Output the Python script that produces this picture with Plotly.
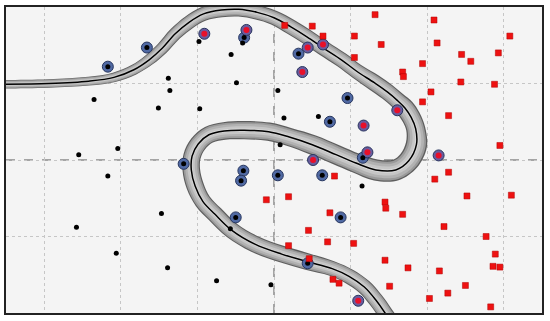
import numpy as np
import plotly.graph_objects as go

# class A (black dots)
a_x = [-1.38, -1.36, -2.35, -1.51, -2.04, -2.55, -0.98, -0.56, -0.41, -0.49, -0.97, 0.05,
       0.13, 0.58, 0.08, -2.17, -1.47, -2.58, -2.06, -1.39, -0.75, -0.04, -0.57, 1.15]
a_y = [1.07, 0.91, 0.79, 0.68, 0.15, 0.07, 1.55, 1.38, 1.53, 1.01, 0.67, 0.91,
       0.55, 0.57, 0.20, -0.21, -0.70, -0.88, -1.22, -1.41, -1.58, -1.63, -0.90, -0.34]

# class A support vectors
asv_x = [-2.17, -1.66, -0.39, 0.32, 0.96, 0.73, 1.16, -1.18, -0.40, -0.43, 0.05, 0.63, -0.50, 0.87, 0.44]
asv_y = [1.22, 1.47, 1.60, 1.39, 0.81, 0.50, 0.03, -0.05, -0.14, -0.27, -0.20, -0.20, -0.75, -0.75, -1.35]

# class B (red squares)
b_x = [0.14, 0.50, 0.64, 1.05, 1.05, 1.32, 2.09, 3.08, 1.40, 2.13, 2.45, 2.57, 2.93, 1.94,
       1.68, 1.69, 2.44, 2.88, 2.05, 1.94, 2.28, 2.95,
       0.79, -0.10, 0.19, 0.73, 0.45, 0.70, 1.04, 0.19, 0.46, 0.77, 0.85, 2.10, 2.28, 2.52,
       3.10, 1.45, 1.46, 1.68, 2.22, 2.77, 2.89, 2.86, 2.95, 1.45, 1.75, 2.16, 1.51, 2.50,
       2.27, 2.03, 2.83]
b_y = [1.76, 1.75, 1.62, 1.62, 1.34, 1.90, 1.83, 1.62, 1.51, 1.53, 1.38, 1.29, 1.40, 1.26,
       1.15, 1.09, 1.02, 0.99, 0.89, 0.76, 0.58, 0.19,
       -0.21, -0.52, -0.48, -0.69, -0.92, -1.07, -1.09, -1.12, -1.29, -1.56, -1.61, -0.25, -0.16, -0.47,
       -0.46, -0.55, -0.63, -0.71, -0.87, -1.00, -1.23, -1.39, -1.40, -1.31, -1.41, -1.45, -1.65, -1.64,
       -1.74, -1.81, -1.92]

# class B support vectors
bsv_x = [-0.91, -0.36, 0.44, 0.64, 0.37, 1.61, 1.17, 1.22, 0.51, 2.15, 1.10]
bsv_y = [1.65, 1.70, 1.47, 1.51, 1.15, 0.65, 0.45, 0.10, 0.00, 0.06, -1.84]

# decision boundary and half margin width
boundary_x = [-3.70, -3.52, -2.94, -2.42, -2.09, -1.83, -1.63, -1.46, -1.29, -1.11, -0.92, -0.69,
              -0.46, -0.22, 0.00, 0.22, 0.43, 0.65, 0.88, 1.08, 1.31, 1.48, 1.61, 1.71, 1.79, 1.85,
              1.86, 1.76, 1.59, 1.33, 1.07, 0.81, 0.50, 0.20, -0.07, -0.39, -0.65, -0.85, -0.99,
              -1.07, -1.08, -1.03, -0.93, -0.77, -0.55, -0.25, 0.10, 0.44, 0.76, 0.98, 1.18, 1.33,
              1.45, 1.60]
boundary_y = [0.99, 0.99, 1.00, 1.03, 1.08, 1.18, 1.31, 1.46, 1.65, 1.80, 1.91, 1.96, 1.97, 1.93,
              1.86, 1.74, 1.61, 1.46, 1.31, 1.16, 1.01, 0.89, 0.78, 0.68, 0.56, 0.41, 0.20, -0.01,
              -0.13, -0.13, -0.04, 0.07, 0.20, 0.30, 0.37, 0.39, 0.38, 0.33, 0.21, 0.05, -0.13,
              -0.34, -0.54, -0.71, -0.92, -1.10, -1.23, -1.33, -1.42, -1.52, -1.66, -1.83, -2.00,
              -2.25]
margin = [0.055, 0.055, 0.055, 0.058, 0.062, 0.068, 0.075, 0.08, 0.085, 0.09, 0.092, 0.095,
          0.095, 0.095, 0.095, 0.1, 0.1, 0.1, 0.1, 0.1, 0.11, 0.11, 0.11, 0.125, 0.125, 0.125,
          0.14, 0.14, 0.14, 0.14, 0.13, 0.13, 0.13, 0.12, 0.12, 0.12, 0.115, 0.115, 0.115, 0.115,
          0.115, 0.115, 0.11, 0.11, 0.11, 0.11, 0.11, 0.11, 0.1, 0.1, 0.1, 0.1, 0.1, 0.1]

bx = np.array(boundary_x)
by = np.array(boundary_y)
w = np.array(margin)
tx, ty = np.gradient(bx), np.gradient(by)
n = np.hypot(tx, ty)
nx, ny = -ty / n, tx / n

fig = go.Figure()

# margin band, layered from the dark edge to the light middle
for f, col in [(1.0, "#5e5e5e"), (0.87, "#9a9a9a"), (0.68, "#b2b2b2"), (0.42, "#c6c6c6"), (0.18, "#d6d6d6")]:
    px_ = np.concatenate([bx + nx * w * f, (bx - nx * w * f)[::-1]])
    py_ = np.concatenate([by + ny * w * f, (by - ny * w * f)[::-1]])
    fig.add_trace(go.Scatter(x=px_, y=py_, mode="lines", fill="toself", fillcolor=col,
                             line=dict(width=0, shape="spline", color=col), hoverinfo="skip"))

fig.add_trace(go.Scatter(x=bx, y=by, mode="lines", line=dict(color="black", width=1.5, shape="spline"),
                         hoverinfo="skip"))

halo = dict(symbol="circle", size=11, color="#5069a3", line=dict(color="#26355e", width=1))
fig.add_trace(go.Scatter(x=asv_x, y=asv_y, mode="markers", marker=halo))
fig.add_trace(go.Scatter(x=bsv_x, y=bsv_y, mode="markers", marker=dict(halo, color="#6a5c9e")))
fig.add_trace(go.Scatter(x=a_x + asv_x, y=a_y + asv_y, mode="markers",
                         marker=dict(symbol="circle", size=5, color="black")))
fig.add_trace(go.Scatter(x=b_x, y=b_y, mode="markers",
                         marker=dict(symbol="square", size=6, color="#ee1111", line=dict(color="#b00000", width=0.5))))
fig.add_trace(go.Scatter(x=bsv_x, y=bsv_y, mode="markers",
                         marker=dict(symbol="circle", size=6, color="#e8102a")))

axis = dict(showticklabels=False, ticks="", zeroline=False, showgrid=True, gridcolor="#c6c6c6",
            griddash="dot", gridwidth=1, showline=True, mirror=True, linecolor="#222222", linewidth=2)
fig.update_layout(
    width=550, height=321,
    margin=dict(l=6, r=8, t=7, b=8),
    paper_bgcolor="white", plot_bgcolor="#f4f4f4",
    showlegend=False,
    xaxis=dict(axis, range=[-3.5, 3.5], dtick=1, tick0=0),
    yaxis=dict(axis, range=[-2, 2], dtick=1, tick0=0),
    shapes=[
        dict(type="line", xref="x", yref="y", x0=0, x1=0, y0=-2, y1=2, layer="below",
             line=dict(color="#555555", width=1, dash="dash")),
        dict(type="line", xref="x", yref="y", x0=-3.5, x1=3.5, y0=0, y1=0, layer="below",
             line=dict(color="#555555", width=1, dash="dash")),
    ],
)

fig.write_html("out.html", config={"displayModeBar": False},
               post_script="document.body.style.margin='0';")
